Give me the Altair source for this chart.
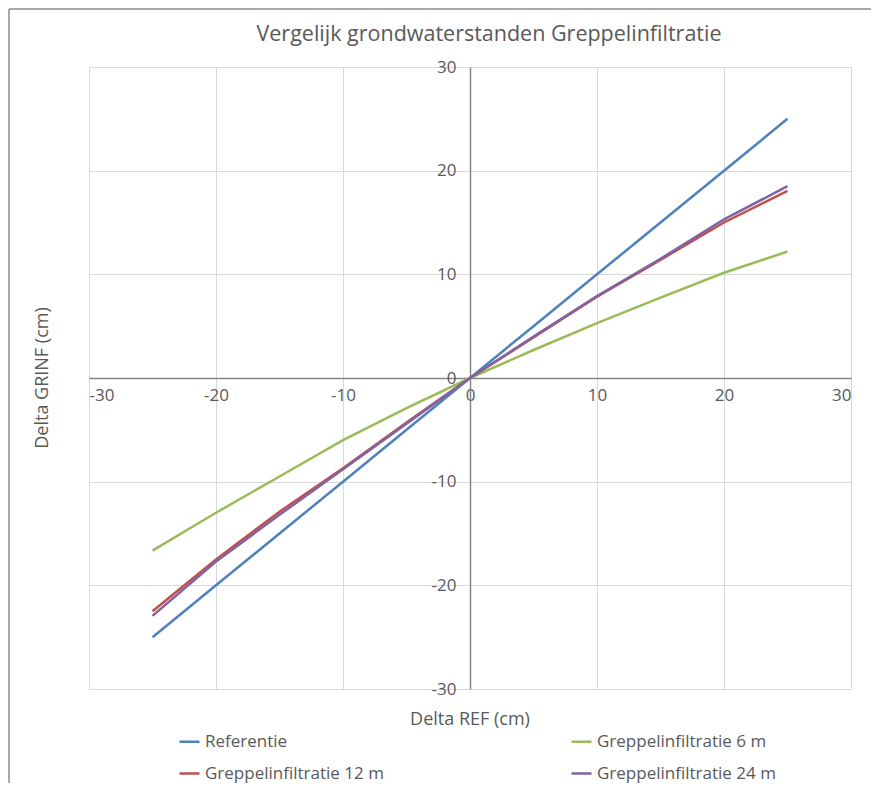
import altair as alt
import pandas as pd

x_vals = [-25, -20, -15, -10, -5, 0, 5, 10, 15, 20, 25]
referentie = [-25, -20, -15, -10, -5, 0, 5, 10, 15, 20, 25]
grep_6 = [-16.65, -13.0, -9.5, -6.0, -2.9, 0, 2.7, 5.3, 7.75, 10.15, 12.2]
grep_12 = [-22.5, -17.5, -12.9, -8.7, -4.3, 0, 3.9, 7.85, 11.4, 15.0, 18.05]
grep_24 = [-22.95, -17.7, -13.2, -8.8, -4.4, 0, 4.0, 7.9, 11.5, 15.3, 18.5]

series_names = ["Referentie", "Greppelinfiltratie 6 m",
                "Greppelinfiltratie 12 m", "Greppelinfiltratie 24 m"]
series_colors = ["#4F81BD", "#9BBB59", "#C0504D", "#8064A2"]
tick_values = [-30, -20, -10, 0, 10, 20, 30]
title_text = "Vergelijk grondwaterstanden Greppelinfiltratie"
x_title = "Delta REF (cm)"
y_title = "Delta GRINF (cm)"

rows = []
for name, vals in zip(series_names, [referentie, grep_6, grep_12, grep_24]):
    for i, (xv, yv) in enumerate(zip(x_vals, vals)):
        rows.append({"serie": name, "x": xv, "y": yv, "i": i})
df = pd.DataFrame(rows)

FONT = "Open Sans"
GREY_TXT = "#595959"
W, H = 762, 622

lines = alt.Chart(df).mark_line(strokeWidth=2.5, clip=False).encode(
    x=alt.X("x:Q", scale=alt.Scale(domain=[-30, 30], nice=False),
            axis=alt.Axis(values=tick_values, title=None,
                          offset=-H / 2, grid=True, gridColor="#D9D9D9",
                          domainColor="#868686", domainWidth=1.5, ticks=False,
                          labelPadding=9, labelFontSize=17, labelColor=GREY_TXT,
                          labelFont=FONT, labelExpr="'' + datum.value")),
    y=alt.Y("y:Q", scale=alt.Scale(domain=[-30, 30], nice=False),
            axis=alt.Axis(values=tick_values, title=None,
                          offset=-W / 2, grid=True, gridColor="#D9D9D9",
                          domainColor="#868686", domainWidth=1.5, ticks=False,
                          labelPadding=14, labelFontSize=17, labelColor=GREY_TXT,
                          labelFont=FONT, labelExpr="'' + datum.value")),
    color=alt.Color("serie:N",
                    scale=alt.Scale(domain=series_names, range=series_colors),
                    legend=alt.Legend(title=None, orient="none", legendX=89,
                                      legendY=663, columns=2, direction="horizontal",
                                      symbolType="stroke", symbolSize=400,
                                      symbolStrokeWidth=2.5, labelFontSize=17,
                                      labelColor=GREY_TXT, labelFont=FONT,
                                      columnPadding=182, rowPadding=12,
                                      labelOffset=4, labelLimit=400)),
    order="i:Q",
)

title = alt.Chart(pd.DataFrame({"t": [title_text]})).mark_text(
    fontSize=21.5, font=FONT, color=GREY_TXT, align="center", baseline="middle"
).encode(text="t:N", x=alt.value(400), y=alt.value(-32))

xtitle = alt.Chart(pd.DataFrame({"t": [x_title]})).mark_text(
    fontSize=18, font=FONT, color=GREY_TXT, align="center", baseline="middle"
).encode(text="t:N", x=alt.value(381), y=alt.value(653))

ytitle = alt.Chart(pd.DataFrame({"t": [y_title]})).mark_text(
    fontSize=18, font=FONT, color=GREY_TXT, align="center", baseline="middle",
    angle=270
).encode(text="t:N", x=alt.value(-46), y=alt.value(311))

border_top = alt.Chart(pd.DataFrame({"a": [0]})).mark_rule(
    color="#8C8C8C", strokeWidth=1.5
).encode(x=alt.value(-80), x2=alt.value(800), y=alt.value(-58))
border_left = alt.Chart(pd.DataFrame({"a": [0]})).mark_rule(
    color="#8C8C8C", strokeWidth=1.5
).encode(x=alt.value(-80), y=alt.value(-58), y2=alt.value(740))

chart = alt.layer(lines, title, xtitle, ytitle, border_top, border_left).properties(
    width=W, height=H,
    autosize=alt.AutoSizeParams(type="none"),
    padding={"left": 81, "top": 59, "right": 20, "bottom": 94},
).configure_view(stroke="#868686", strokeWidth=1.5).configure(background="white")

chart.save("out.html", embed_options={"renderer": "svg", "actions": False})
